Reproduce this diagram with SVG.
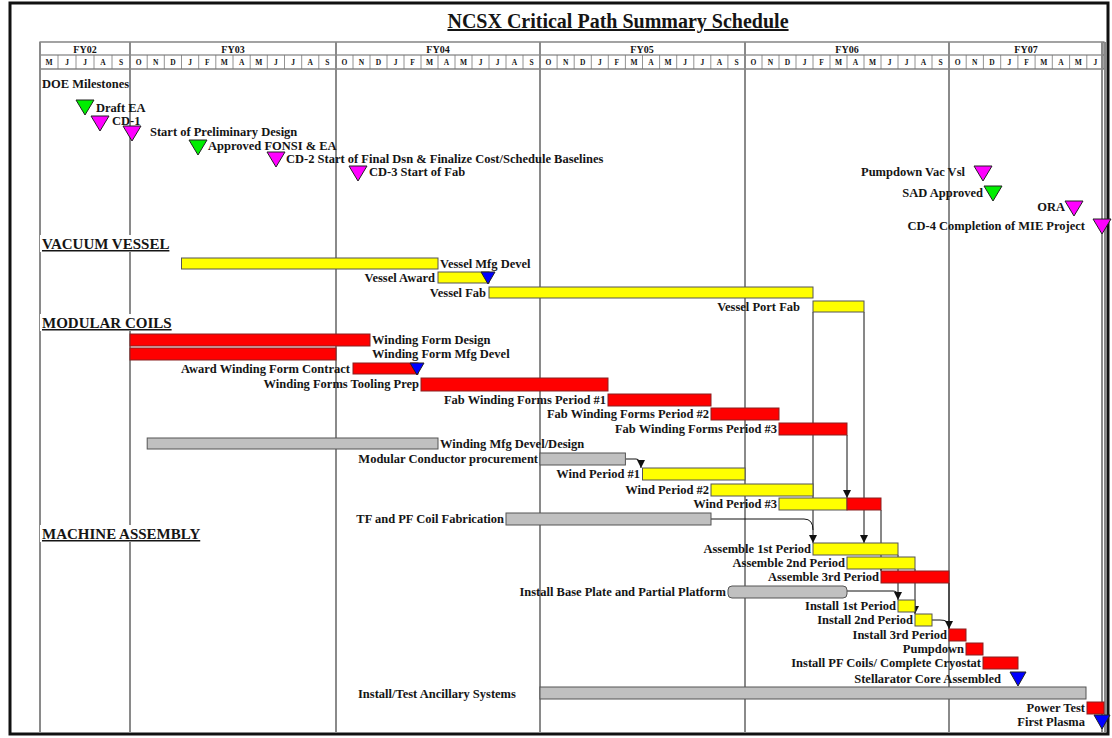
<svg xmlns="http://www.w3.org/2000/svg" width="1112" height="738" viewBox="0 0 1112 738">
<defs>
<marker id="ah" viewBox="0 0 8 8" refX="8" refY="4" markerWidth="8" markerHeight="8" markerUnits="userSpaceOnUse" orient="auto"><path d="M0,0 L8,4 L0,8 z" fill="#111"/></marker>
<style>
text{font-family:"Liberation Serif","Times New Roman",serif;font-weight:bold;fill:#151515}
.lbl{font-size:12.5px}
.end{text-anchor:end}
.hdr{font-size:15px;text-decoration:underline}
.ttl{font-size:20px;text-anchor:middle;text-decoration:underline}
.fy{font-size:10px;text-anchor:middle}
.mo{font-size:7.5px;text-anchor:middle}
.yl{stroke:#8a8a8a;stroke-width:2}
.hl{stroke:#666;stroke-width:1.2}
.md{stroke:#777;stroke-width:0.8}
.by{fill:#ffff00;stroke:#555;stroke-width:1}
.br{fill:#ff0000;stroke:#8a2020;stroke-width:1}
.bg{fill:#c0c0c0;stroke:#555;stroke-width:1}
.mg{fill:#00ee00;stroke:#222;stroke-width:1}
.mm{fill:#ff00ff;stroke:#222;stroke-width:1}
.mb{fill:#0000ff;stroke:#222;stroke-width:1}
.cn{stroke:#111;stroke-width:1;fill:none}
</style>
</defs>
<rect x="0" y="0" width="1112" height="738" fill="#fff"/>
<rect x="10" y="3" width="1098" height="731" fill="none" stroke="#111" stroke-width="3"/>
<text class="ttl" x="618" y="28">NCSX Critical Path Summary Schedule</text>

<g id="timescale">
<rect x="40" y="42" width="1064" height="27" fill="#fff" stroke="#666" stroke-width="1.2"/>
<line class="hl" x1="40" y1="55" x2="1104" y2="55"/>
<g class="yl">
<line x1="40" y1="42" x2="40" y2="733"/>
<line x1="130" y1="42" x2="130" y2="733"/>
<line x1="336" y1="42" x2="336" y2="733"/>
<line x1="540" y1="42" x2="540" y2="733"/>
<line x1="745" y1="42" x2="745" y2="733"/>
<line x1="949" y1="42" x2="949" y2="733"/>
<line x1="1102" y1="42" x2="1102" y2="733"/>
<line x1="1105" y1="42" x2="1105" y2="733"/>
</g>
<text class="fy" x="85" y="53">FY02</text>
<text class="fy" x="233" y="53">FY03</text>
<text class="fy" x="438" y="53">FY04</text>
<text class="fy" x="642" y="53">FY05</text>
<text class="fy" x="847" y="53">FY06</text>
<text class="fy" x="1026" y="53">FY07</text>
<g class="md">
<line x1="58" y1="55" x2="58" y2="69"/><line x1="76" y1="55" x2="76" y2="69"/><line x1="94" y1="55" x2="94" y2="69"/><line x1="112" y1="55" x2="112" y2="69"/>
<line x1="147.2" y1="55" x2="147.2" y2="69"/><line x1="164.3" y1="55" x2="164.3" y2="69"/><line x1="181.5" y1="55" x2="181.5" y2="69"/><line x1="198.7" y1="55" x2="198.7" y2="69"/><line x1="215.8" y1="55" x2="215.8" y2="69"/><line x1="233" y1="55" x2="233" y2="69"/><line x1="250.2" y1="55" x2="250.2" y2="69"/><line x1="267.3" y1="55" x2="267.3" y2="69"/><line x1="284.5" y1="55" x2="284.5" y2="69"/><line x1="301.7" y1="55" x2="301.7" y2="69"/><line x1="318.8" y1="55" x2="318.8" y2="69"/>
<line x1="353" y1="55" x2="353" y2="69"/><line x1="370" y1="55" x2="370" y2="69"/><line x1="387" y1="55" x2="387" y2="69"/><line x1="404" y1="55" x2="404" y2="69"/><line x1="421" y1="55" x2="421" y2="69"/><line x1="438" y1="55" x2="438" y2="69"/><line x1="455" y1="55" x2="455" y2="69"/><line x1="472" y1="55" x2="472" y2="69"/><line x1="489" y1="55" x2="489" y2="69"/><line x1="506" y1="55" x2="506" y2="69"/><line x1="523" y1="55" x2="523" y2="69"/>
<line x1="557.1" y1="55" x2="557.1" y2="69"/><line x1="574.2" y1="55" x2="574.2" y2="69"/><line x1="591.3" y1="55" x2="591.3" y2="69"/><line x1="608.3" y1="55" x2="608.3" y2="69"/><line x1="625.4" y1="55" x2="625.4" y2="69"/><line x1="642.5" y1="55" x2="642.5" y2="69"/><line x1="659.6" y1="55" x2="659.6" y2="69"/><line x1="676.7" y1="55" x2="676.7" y2="69"/><line x1="693.8" y1="55" x2="693.8" y2="69"/><line x1="710.8" y1="55" x2="710.8" y2="69"/><line x1="727.9" y1="55" x2="727.9" y2="69"/>
<line x1="762" y1="55" x2="762" y2="69"/><line x1="779" y1="55" x2="779" y2="69"/><line x1="796" y1="55" x2="796" y2="69"/><line x1="813" y1="55" x2="813" y2="69"/><line x1="830" y1="55" x2="830" y2="69"/><line x1="847" y1="55" x2="847" y2="69"/><line x1="864" y1="55" x2="864" y2="69"/><line x1="881" y1="55" x2="881" y2="69"/><line x1="898" y1="55" x2="898" y2="69"/><line x1="915" y1="55" x2="915" y2="69"/><line x1="932" y1="55" x2="932" y2="69"/>
<line x1="966.2" y1="55" x2="966.2" y2="69"/><line x1="983.4" y1="55" x2="983.4" y2="69"/><line x1="1000.7" y1="55" x2="1000.7" y2="69"/><line x1="1017.9" y1="55" x2="1017.9" y2="69"/><line x1="1035.1" y1="55" x2="1035.1" y2="69"/><line x1="1052.3" y1="55" x2="1052.3" y2="69"/><line x1="1069.6" y1="55" x2="1069.6" y2="69"/><line x1="1086.8" y1="55" x2="1086.8" y2="69"/>
</g>
<g class="mo">
<text x="49" y="65">M</text><text x="67" y="65">J</text><text x="85" y="65">J</text><text x="103" y="65">A</text><text x="121" y="65">S</text>
<text x="138.6" y="65">O</text><text x="155.8" y="65">N</text><text x="172.9" y="65">D</text><text x="190.1" y="65">J</text><text x="207.3" y="65">F</text><text x="224.4" y="65">M</text><text x="241.6" y="65">A</text><text x="258.8" y="65">M</text><text x="275.9" y="65">J</text><text x="293.1" y="65">J</text><text x="310.3" y="65">A</text><text x="327.4" y="65">S</text>
<text x="344.5" y="65">O</text><text x="361.5" y="65">N</text><text x="378.5" y="65">D</text><text x="395.5" y="65">J</text><text x="412.5" y="65">F</text><text x="429.5" y="65">M</text><text x="446.5" y="65">A</text><text x="463.5" y="65">M</text><text x="480.5" y="65">J</text><text x="497.5" y="65">J</text><text x="514.5" y="65">A</text><text x="531.5" y="65">S</text>
<text x="548.5" y="65">O</text><text x="565.6" y="65">N</text><text x="582.7" y="65">D</text><text x="599.8" y="65">J</text><text x="616.9" y="65">F</text><text x="634" y="65">M</text><text x="651" y="65">A</text><text x="668.1" y="65">M</text><text x="685.2" y="65">J</text><text x="702.3" y="65">J</text><text x="719.4" y="65">A</text><text x="736.5" y="65">S</text>
<text x="753.5" y="65">O</text><text x="770.5" y="65">N</text><text x="787.5" y="65">D</text><text x="804.5" y="65">J</text><text x="821.5" y="65">F</text><text x="838.5" y="65">M</text><text x="855.5" y="65">A</text><text x="872.5" y="65">M</text><text x="889.5" y="65">J</text><text x="906.5" y="65">J</text><text x="923.5" y="65">A</text><text x="940.5" y="65">S</text>
<text x="957.6" y="65">O</text><text x="974.8" y="65">N</text><text x="992" y="65">D</text><text x="1009.3" y="65">J</text><text x="1026.5" y="65">F</text><text x="1043.7" y="65">M</text><text x="1061" y="65">A</text><text x="1078.2" y="65">M</text><text x="1095.4" y="65">J</text>
</g>
</g>

<g id="section-headers">
<text class="lbl" x="42" y="88">DOE Milestones</text>
<rect x="40" y="235" width="136" height="17" fill="#fff"/>
<text class="hdr" x="42" y="249">VACUUM VESSEL</text>
<rect x="40" y="314" width="138" height="17" fill="#fff"/>
<text class="hdr" x="42" y="328">MODULAR COILS</text>
<rect x="40" y="525" width="168" height="17" fill="#fff"/>
<text class="hdr" x="42" y="539">MACHINE ASSEMBLY</text>
</g>

<g id="connectors">
<line class="cn" x1="813" y1="312" x2="813" y2="543" marker-end="url(#ah)"/>
<line class="cn" x1="864" y1="312" x2="864" y2="543" marker-end="url(#ah)"/>
<line class="cn" x1="847" y1="435" x2="847" y2="498" marker-end="url(#ah)"/>
<path class="cn" d="M626,459 H636 Q641,459 641,468" marker-end="url(#ah)"/>
<path class="cn" d="M711,519 H804 Q813,519 813,530"/>
<line class="cn" x1="881" y1="510" x2="881" y2="571" marker-end="url(#ah)"/>
<line class="cn" x1="898" y1="555" x2="898" y2="600" marker-end="url(#ah)"/>
<path class="cn" d="M847,591 H893 Q898,591 898,596"/>
<line class="cn" x1="915" y1="569" x2="915" y2="614" marker-end="url(#ah)"/>
<line class="cn" x1="949" y1="583" x2="949" y2="629" marker-end="url(#ah)"/>
<path class="cn" d="M932,620 H940 Q949,620 949,626"/>
</g>

<g id="ms-draft-ea"><polygon class="mg" points="76,100 94,100 85,115"/><text class="lbl" x="96" y="112">Draft EA</text></g>
<g id="ms-cd1"><polygon class="mm" points="91,116 109,116 100,131"/><text class="lbl" x="112" y="125">CD-1</text></g>
<g id="ms-prelim"><polygon class="mm" points="123,126 141,126 132,141"/><text class="lbl" x="150" y="136">Start of Preliminary Design</text></g>
<g id="ms-fonsi"><polygon class="mg" points="189,140 207,140 198,155"/><text class="lbl" x="208" y="150">Approved FONSI &amp; EA</text></g>
<g id="ms-cd2"><polygon class="mm" points="267,152 285,152 276,167"/><text class="lbl" x="286" y="163">CD-2 Start of Final Dsn &amp; Finalize Cost/Schedule Baselines</text></g>
<g id="ms-cd3"><polygon class="mm" points="349,166 367,166 358,181"/><text class="lbl" x="369" y="176">CD-3 Start of Fab</text></g>
<g id="ms-pumpdown-vv"><polygon class="mm" points="974,166 992,166 983,181"/><text class="lbl end" x="965" y="176">Pumpdown Vac Vsl</text></g>
<g id="ms-sad"><polygon class="mg" points="984,186 1002,186 993,201"/><text class="lbl end" x="983" y="197">SAD Approved</text></g>
<g id="ms-ora"><polygon class="mm" points="1065,201 1083,201 1074,216"/><text class="lbl end" x="1065" y="211">ORA</text></g>
<g id="ms-cd4"><polygon class="mm" points="1093,219 1111,219 1102,234"/><text class="lbl end" x="1085" y="230">CD-4 Completion of MIE Project</text></g>

<g id="vessel-mfg-devel"><rect class="by" x="181.5" y="258" width="256.5" height="11"/><text class="lbl" x="440" y="268">Vessel Mfg Devel</text></g>
<g id="vessel-award"><rect class="by" x="438" y="272" width="51" height="11"/><polygon class="mb" points="481,272 495,272 488,284"/><text class="lbl end" x="435" y="282">Vessel Award</text></g>
<g id="vessel-fab"><rect class="by" x="489" y="287" width="324" height="11"/><text class="lbl end" x="486" y="297">Vessel Fab</text></g>
<g id="vessel-port-fab"><rect class="by" x="813" y="301" width="51" height="11"/><text class="lbl end" x="800" y="311">Vessel Port Fab</text></g>

<g id="wf-design"><rect class="br" x="130" y="334" width="240" height="12"/><text class="lbl" x="372" y="344">Winding Form Design</text></g>
<g id="wf-mfg-devel"><rect class="br" x="130" y="348" width="206" height="12"/><text class="lbl" x="372" y="358">Winding Form Mfg Devel</text></g>
<g id="award-wf-contract"><rect class="br" x="353" y="363" width="65" height="11"/><polygon class="mb" points="410,363 424,363 417,375"/><text class="lbl end" x="350" y="373">Award Winding Form Contract</text></g>
<g id="wf-tooling"><rect class="br" x="421" y="378" width="187" height="13"/><text class="lbl end" x="419" y="388">Winding Forms Tooling Prep</text></g>
<g id="fab-wf-1"><rect class="br" x="608" y="394" width="103" height="12"/><text class="lbl end" x="606" y="404">Fab Winding Forms Period #1</text></g>
<g id="fab-wf-2"><rect class="br" x="711" y="408" width="68" height="12"/><text class="lbl end" x="709" y="418">Fab Winding Forms Period #2</text></g>
<g id="fab-wf-3"><rect class="br" x="779" y="423" width="68" height="12"/><text class="lbl end" x="777" y="433">Fab Winding Forms Period #3</text></g>
<g id="winding-mfg"><rect class="bg" x="147.2" y="438" width="290.8" height="11"/><text class="lbl" x="440" y="448">Winding Mfg Devel/Design</text></g>
<g id="mod-conductor"><rect class="bg" x="540" y="453" width="85.4" height="12"/><text class="lbl end" x="538" y="463">Modular Conductor procurement</text></g>
<g id="wind-1"><rect class="by" x="642.5" y="468" width="102.5" height="12"/><text class="lbl end" x="640" y="478">Wind Period #1</text></g>
<g id="wind-2"><rect class="by" x="711" y="484" width="102" height="12"/><text class="lbl end" x="709" y="494">Wind Period #2</text></g>
<g id="wind-3"><rect class="by" x="779" y="498" width="68" height="12"/><rect class="br" x="847" y="498" width="34" height="12"/><text class="lbl end" x="777" y="508">Wind Period #3</text></g>
<g id="tf-pf"><rect class="bg" x="506" y="513" width="205" height="12"/><text class="lbl end" x="504" y="523">TF and PF Coil Fabrication</text></g>

<g id="assemble-1"><rect class="by" x="813" y="543" width="85" height="12"/><text class="lbl end" x="811" y="553">Assemble 1st Period</text></g>
<g id="assemble-2"><rect class="by" x="847" y="557" width="68" height="12"/><text class="lbl end" x="845" y="567">Assemble 2nd Period</text></g>
<g id="assemble-3"><rect class="br" x="881" y="571" width="68" height="12"/><text class="lbl end" x="879" y="581">Assemble 3rd Period</text></g>
<g id="base-plate"><rect class="bg" x="728" y="586" width="119" height="12" rx="4"/><text class="lbl end" x="726" y="596">Install Base Plate and Partial Platform</text></g>
<g id="install-1"><rect class="by" x="898" y="600" width="17" height="12"/><text class="lbl end" x="896" y="610">Install 1st Period</text></g>
<g id="install-2"><rect class="by" x="915" y="614" width="17" height="12"/><text class="lbl end" x="913" y="624">Install 2nd Period</text></g>
<g id="install-3"><rect class="br" x="949" y="629" width="17" height="12"/><text class="lbl end" x="947" y="639">Install 3rd Period</text></g>
<g id="pumpdown"><rect class="br" x="966" y="643" width="17" height="12"/><text class="lbl end" x="964" y="653">Pumpdown</text></g>
<g id="pf-coils"><rect class="br" x="983" y="657" width="35" height="12"/><text class="lbl end" x="981" y="667">Install PF Coils/ Complete Cryostat</text></g>
<g id="stellarator-core"><polygon class="mb" points="1010,672 1026,672 1018,686"/><text class="lbl end" x="1001" y="683">Stellarator Core Assembled</text></g>
<g id="ancillary"><rect class="bg" x="540" y="687" width="546" height="12"/><text class="lbl" x="358" y="698">Install/Test Ancillary Systems</text></g>
<g id="power-test"><rect class="br" x="1087" y="702" width="17" height="12"/><text class="lbl end" x="1085" y="712">Power Test</text></g>
<g id="first-plasma"><polygon class="mb" points="1094,715 1110,715 1102,729"/><text class="lbl end" x="1085" y="726">First Plasma</text></g>
</svg>
